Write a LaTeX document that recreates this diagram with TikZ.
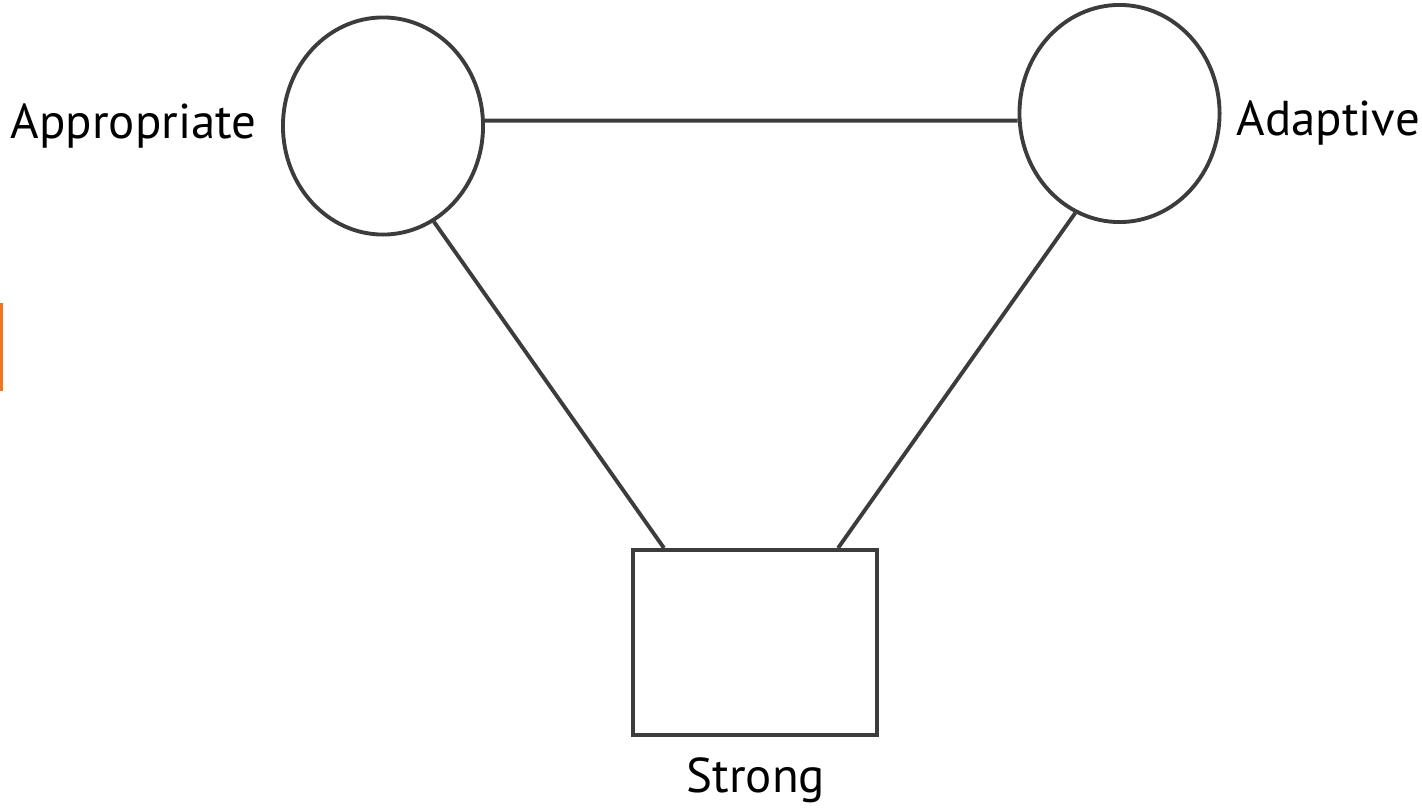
\documentclass[tikz,border=0pt]{standalone}
\usepackage{fontspec}
\setmainfont{PT Sans}
\usetikzlibrary{shapes.geometric}
\definecolor{edge}{HTML}{3C3C3C}
\definecolor{frameorange}{HTML}{F07422}
\begin{document}
\begin{tikzpicture}[x=0.01cm,y=-0.01cm,
  roundnode/.style={ellipse,draw=edge,line width=1.1pt,fill=white,inner sep=0pt,
    minimum width=2cm,minimum height=2.17cm},
  boxnode/.style={rectangle,draw=edge,line width=1.1pt,fill=white,inner sep=0pt,
    minimum width=2.44cm,minimum height=1.85cm},
  link/.style={draw=edge,line width=1.1pt},
  lbl/.style={font=\fontsize{13.9}{16}\selectfont,inner sep=0pt,text=black}]
\useasboundingbox (0,0) rectangle (1422,809);
\fill[white] (0,0) rectangle (1422,809);
% partial frame at the left edge
\draw[frameorange,line width=0.6pt] (-30,304) rectangle (1.5,390);
% shapes
\node[roundnode] (app) at (383,126) {};
\node[roundnode] (ada) at (1119.5,113.5) {};
\node[boxnode] (str) at (755,642.5) {};
% connectors
\draw[link] (app.3.4) -- (ada.-176.3);
\draw[link] (app.-62.7) -- ([xshift=-0.91cm]str.north);
\draw[link] (ada.-114.6) -- ([xshift=0.83cm]str.north);
% labels
\node[lbl,anchor=base east] (tapp) at (257,138) {Appropriate};
\node[lbl,anchor=base west] (tada) at (1236,135) {Adaptive};
\node[lbl,anchor=base] (tstr) at (756,792) {Strong};
\end{tikzpicture}
\end{document}
